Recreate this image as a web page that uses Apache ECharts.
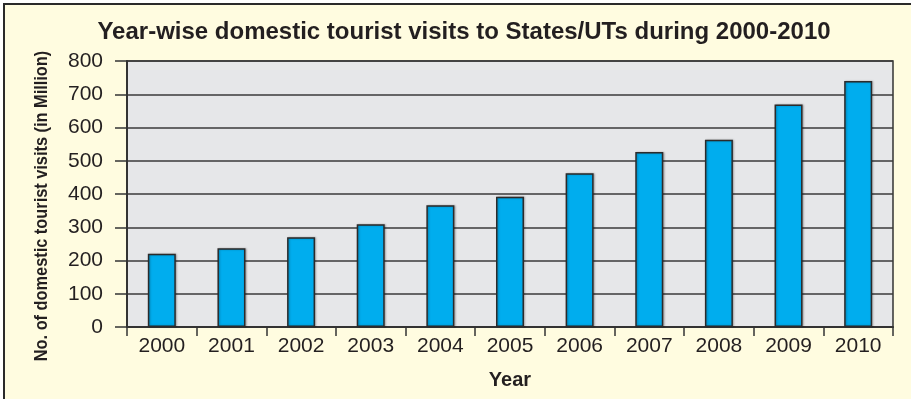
<!DOCTYPE html>
<html>
<head>
<meta charset="utf-8">
<script src="https://cdn.jsdelivr.net/npm/echarts@6/dist/echarts.min.js"></script>
<style>
  html, body { margin: 0; padding: 0; background: #ffffff; }
  #chart { width: 911px; height: 399px; }
</style>
</head>
<body>
<div id="chart"></div>
<script>
// Domestic tourist visits to States/UTs, in million
const years = ['2000', '2001', '2002', '2003', '2004', '2005', '2006', '2007', '2008', '2009', '2010'];
const visits = [220.1, 236.5, 269.6, 309.0, 366.2, 392.0, 462.3, 526.6, 563.0, 668.8, 740.2];
const yTicks = [0, 100, 200, 300, 400, 500, 600, 700, 800];
const yTitle = 'No. of domestic tourist visits (in Million)';

const chart = echarts.init(document.getElementById('chart'), null, { renderer: 'canvas' });

chart.setOption({
  backgroundColor: '#ffffff',
  animation: false,
  graphic: [
    {
      // cream panel with a dark frame
      type: 'rect',
      z: -10,
      silent: true,
      shape: { x: 4, y: 4, width: 940, height: 430 },
      style: { fill: '#FFFCE0', stroke: '#2a2a2a', lineWidth: 2 }
    },
    {
      // condensed vertical axis title
      type: 'text',
      silent: true,
      x: 42,
      y: 206,
      rotation: Math.PI / 2,
      scaleX: 0.86,
      style: {
        text: yTitle,
        fontFamily: 'Liberation Sans, Arial, sans-serif',
        fontWeight: 'bold',
        fontSize: 19,
        fill: '#231f20',
        align: 'center',
        verticalAlign: 'middle'
      }
    }
  ],
  title: {
    text: 'Year-wise domestic tourist visits to States/UTs during 2000-2010',
    left: 459,
    top: 15,
    textAlign: 'center',
    textStyle: {
      fontFamily: 'Liberation Sans, Arial, sans-serif',
      fontWeight: 'bold',
      fontSize: 24,
      color: '#231f20'
    }
  },
  grid: {
    left: 127,
    right: 18,
    top: 61,
    bottom: 72,
    show: true,
    backgroundColor: '#E6E7E9',
    borderColor: '#333333',
    borderWidth: 1.5,
    containLabel: false
  },
  xAxis: {
    type: 'category',
    data: years,
    name: 'Year',
    nameLocation: 'middle',
    nameGap: 43,
    nameTextStyle: {
      fontFamily: 'Liberation Sans, Arial, sans-serif',
      fontWeight: 'bold',
      fontSize: 20,
      color: '#231f20'
    },
    axisLine: { show: true, lineStyle: { color: '#333333', width: 2 } },
    axisTick: { show: true, length: 9, interval: 0, lineStyle: { color: '#333333', width: 1.5 } },
    axisLabel: {
      interval: 0,
      margin: 9,
      fontFamily: 'Liberation Sans, Arial, sans-serif',
      fontSize: 21,
      color: '#231f20'
    }
  },
  yAxis: {
    type: 'value',
    min: yTicks[0],
    max: yTicks[yTicks.length - 1],
    interval: 100,
    axisLine: { show: true, lineStyle: { color: '#333333', width: 2 } },
    axisTick: { show: true, length: 12, lineStyle: { color: '#333333', width: 1.5 } },
    axisLabel: {
      margin: 24,
      fontFamily: 'Liberation Sans, Arial, sans-serif',
      fontSize: 21,
      color: '#231f20',
      formatter: v => (yTicks.includes(v) ? String(v) : '')
    },
    splitLine: { show: true, lineStyle: { color: '#3a3a3a', width: 1.5 } }
  },
  series: [{
    type: 'bar',
    data: visits,
    barWidth: 28,
    itemStyle: {
      color: '#00ADEE',
      borderColor: '#2b2b2b',
      borderWidth: 1.5,
      shadowColor: 'rgba(0,0,0,0.25)',
      shadowBlur: 2,
      shadowOffsetX: 1,
      shadowOffsetY: 0
    }
  }]
});
</script>
</body>
</html>
